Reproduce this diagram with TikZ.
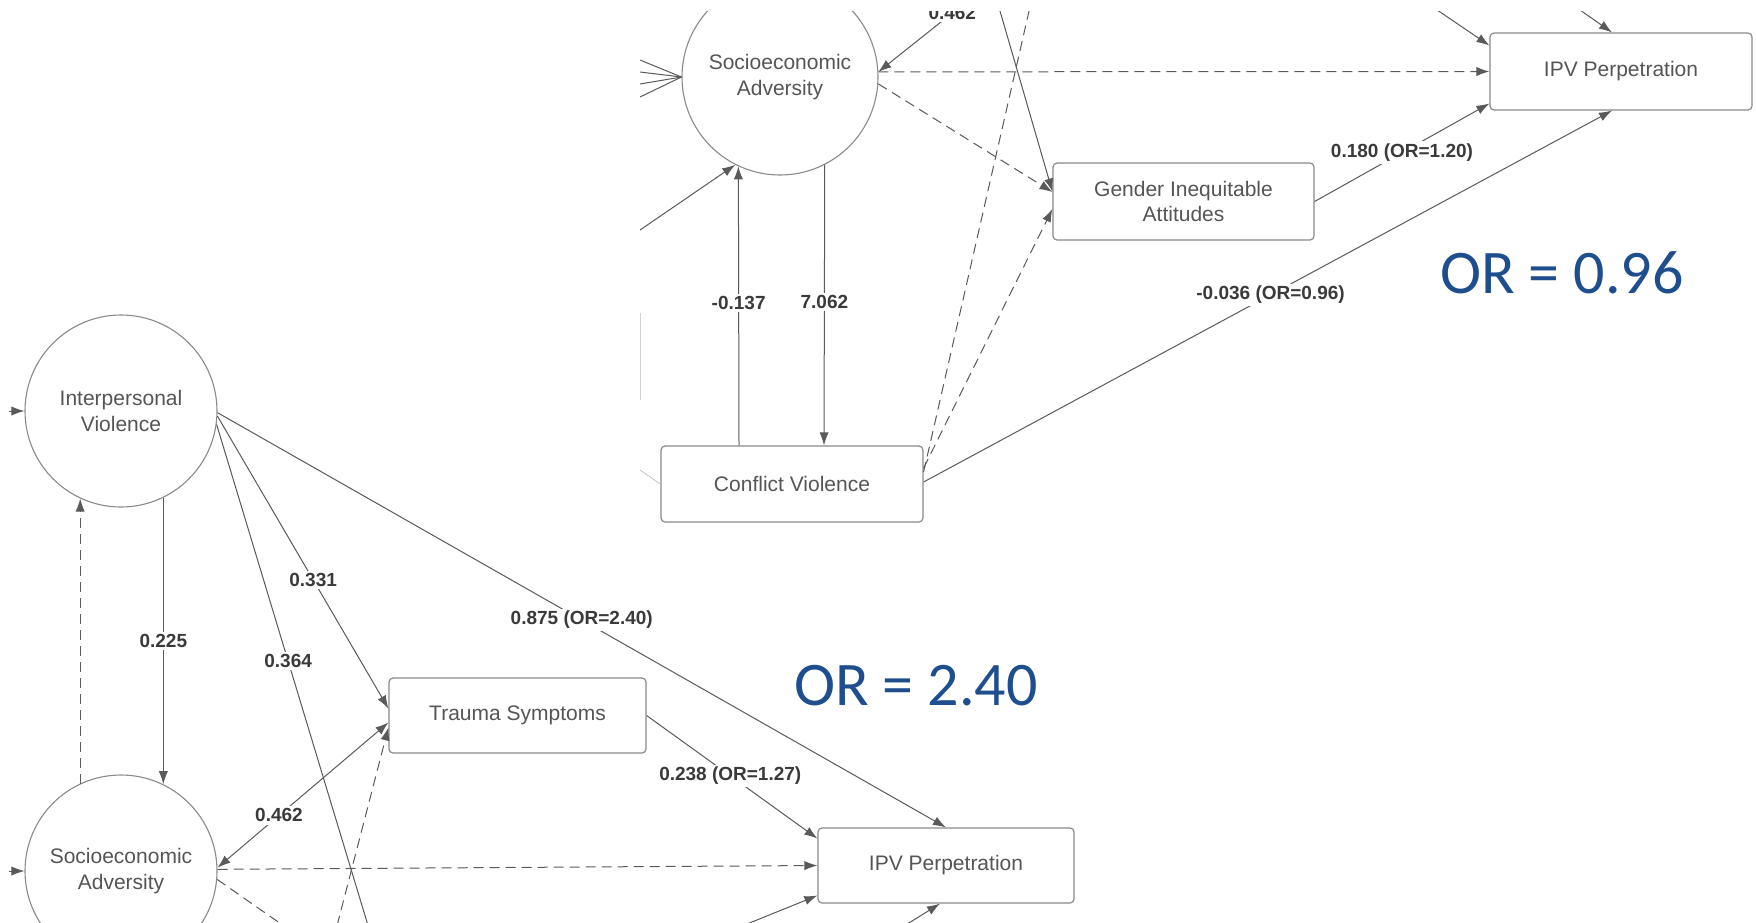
\documentclass[tikz,border=0pt]{standalone}
\usepackage{fontspec}
\setmainfont{Liberation Sans}
\newfontfamily\orfont{Carlito}
\usetikzlibrary{arrows.meta,calc}
\definecolor{linegray}{HTML}{8A8A8A}
\definecolor{edgegray}{HTML}{5A5A5A}
\definecolor{textgray}{HTML}{555555}
\definecolor{labelgray}{HTML}{3A3A3A}
\definecolor{orblue}{HTML}{1F4E8F}
\begin{document}
\begin{tikzpicture}[x=0.5pt,y=-0.5pt,
  latent/.style={circle, draw=linegray, line width=0.55pt, minimum size=#1, inner sep=0pt,
    align=center, text=textgray, font=\fontsize{10.5}{13}\selectfont},
  obs/.style={draw=linegray, line width=0.6pt, rounded corners=2pt, minimum width=128.5pt,
    minimum height=37.5pt, inner sep=0pt, align=center, text=textgray,
    font=\fontsize{10.5}{12.5}\selectfont},
  link/.style={draw=edgegray, line width=0.5pt},
  arr/.style={link, -{Latex[length=6.5pt,width=4.6pt]}},
  darr/.style={arr, dash pattern=on 5pt off 3pt},
  dlink/.style={link, dash pattern=on 5pt off 3pt},
  coef/.style={fill=white, inner sep=1.2pt, text=labelgray,
    font=\bfseries\fontsize{9.5}{11}\selectfont},
  bigor/.style={text=orblue, font=\orfont\fontsize{31}{36}\selectfont}]
\useasboundingbox (0,0) rectangle (1756,922);
\fill[white] (0,0) rectangle (1756,922);

% ---------- lower model: interpersonal violence ----------
\begin{scope}
\clip (0,0) rectangle (1756,922);
\node[latent=96pt] (IV) at (121,411) {Interpersonal\\Violence};
\node[latent=96pt] (SocB) at (121,871) {Socioeconomic\\Adversity};
\node[obs] (TS) at (517.5,715.5) {Trauma Symptoms};
\node[obs, minimum width=128pt] (IPVb) at (946,865.5) {IPV Perpetration};

\coordinate (ivIn) at (9,411);
\coordinate (sbIn) at (9,871);
\coordinate (ivLow) at (383,975);
\coordinate (sbLow) at (360,979);
\coordinate (tsLow) at (325,972);
\coordinate (ipvLowA) at (700,943);
\coordinate (ipvLowB) at (880,941);

\draw[arr] (ivIn) -- (IV.west);
\draw[arr] (sbIn) -- (SocB.west);

\draw[arr] (IV.-64) -- node[coef, pos=0.5] {0.225} (SocB.64);
\draw[darr] (SocB.115) -- (IV.-115);

\draw[arr] (IV.-1) -- node[coef, pos=0.5] {0.875 (OR=2.40)} (IPVb.north);
\draw[arr] (IV.-3) -- node[coef, pos=0.56] {0.331} ([yshift=3.5pt]TS.west);
\draw[link] (IV.-8) -- node[coef, pos=0.43] {0.364} (ivLow);

\draw[arr, {Latex[length=6.5pt,width=4.6pt]}-{Latex[length=6.5pt,width=4.6pt]}]
  (SocB.2) -- node[coef, pos=0.36] {0.462} ([yshift=-3.5pt]TS.west);
\draw[darr] (SocB.1) -- (IPVb.west);
\draw[dlink] (SocB.-5) -- (sbLow);
\draw[darr] (tsLow) -- ([yshift=-6pt]TS.west);

\draw[arr] (TS.east) -- node[coef, pos=0.49] {0.238 (OR=1.27)} ([yshift=13.5pt]IPVb.west);
\draw[arr] (ipvLowA) -- ([yshift=-15pt]IPVb.west);
\draw[arr] (ipvLowB) -- ([xshift=-3pt]IPVb.south);

\node[bigor] (orB) at (916,686) {OR = 2.40};
\end{scope}

% ---------- upper model: conflict violence ----------
\begin{scope}
\clip (640,11) rectangle (1756,560);
\node[latent=98pt] (SocT) at (780,77) {Socioeconomic\\Adversity};
\node[obs, minimum width=131pt, minimum height=38pt] (CV) at (792,484) {Conflict Violence};
\node[obs, minimum width=130.5pt, minimum height=38.5pt] (GIA) at (1183.5,201.5) {Gender Inequitable\\Attitudes};
\node[obs, minimum width=131pt, minimum height=38.5pt] (IPVt) at (1621,71.5) {IPV Perpetration};

\coordinate (stA) at (640,60);
\coordinate (stB) at (640,72);
\coordinate (stC) at (640,84);
\coordinate (stD) at (640,97);
\coordinate (stDiag) at (640,230);
\coordinate (stTop) at (981,-10);
\coordinate (giaTop) at (991,-20);
\coordinate (cvTop) at (1035,-15);
\coordinate (ipvTopA) at (1415,-5);
\coordinate (ipvTopB) at (1560,-4);
\coordinate (cvIn) at (640,470);
\coordinate (edgeA) at (640,313);
\coordinate (edgeB) at (640,400);

\foreach \c in {stA,stB,stC,stD} \draw[link] (\c) -- (SocT.west);
\draw[arr] (stDiag) -- (SocT.-117);
\draw[arr] ([xshift=-26.5pt]CV.north) -- node[coef, pos=0.51] {-0.137} (SocT.-115);
\draw[arr] (SocT.-63) -- node[coef, pos=0.49] {7.062} ([xshift=16pt]CV.north);
\draw[arr] (stTop) -- node[coef, pos=0.28] {0.462} (SocT.3);

\draw[darr] (SocT.3) -- (IPVt.west);
\draw[darr] (SocT.-4) -- ([yshift=4.75pt]GIA.west);
\draw[arr] (giaTop) -- ([yshift=5pt]GIA.west);
\draw[darr] ([yshift=8pt]CV.east) -- ([yshift=-3.75pt]GIA.west);
\draw[dlink] ([yshift=6pt]CV.east) -- (cvTop);

\draw[arr] (GIA.east) -- node[coef, pos=0.5] {0.180 (OR=1.20)} ([yshift=-16pt]IPVt.west);
\draw[arr] ([yshift=1pt]CV.east) -- node[coef, pos=0.504] {-0.036 (OR=0.96)} ([xshift=-4.5pt]IPVt.south);
\draw[arr] (ipvTopA) -- ([yshift=13pt]IPVt.west);
\draw[arr] (ipvTopB) -- ([xshift=-4.5pt]IPVt.north);

\draw[gray!45, line width=0.4pt] (cvIn) -- (CV.west);
\draw[gray!35, line width=0.4pt] (edgeA) -- (edgeB);

\node[bigor] (orT) at (1562,273) {OR = 0.96};
\end{scope}
\end{tikzpicture}
\end{document}
